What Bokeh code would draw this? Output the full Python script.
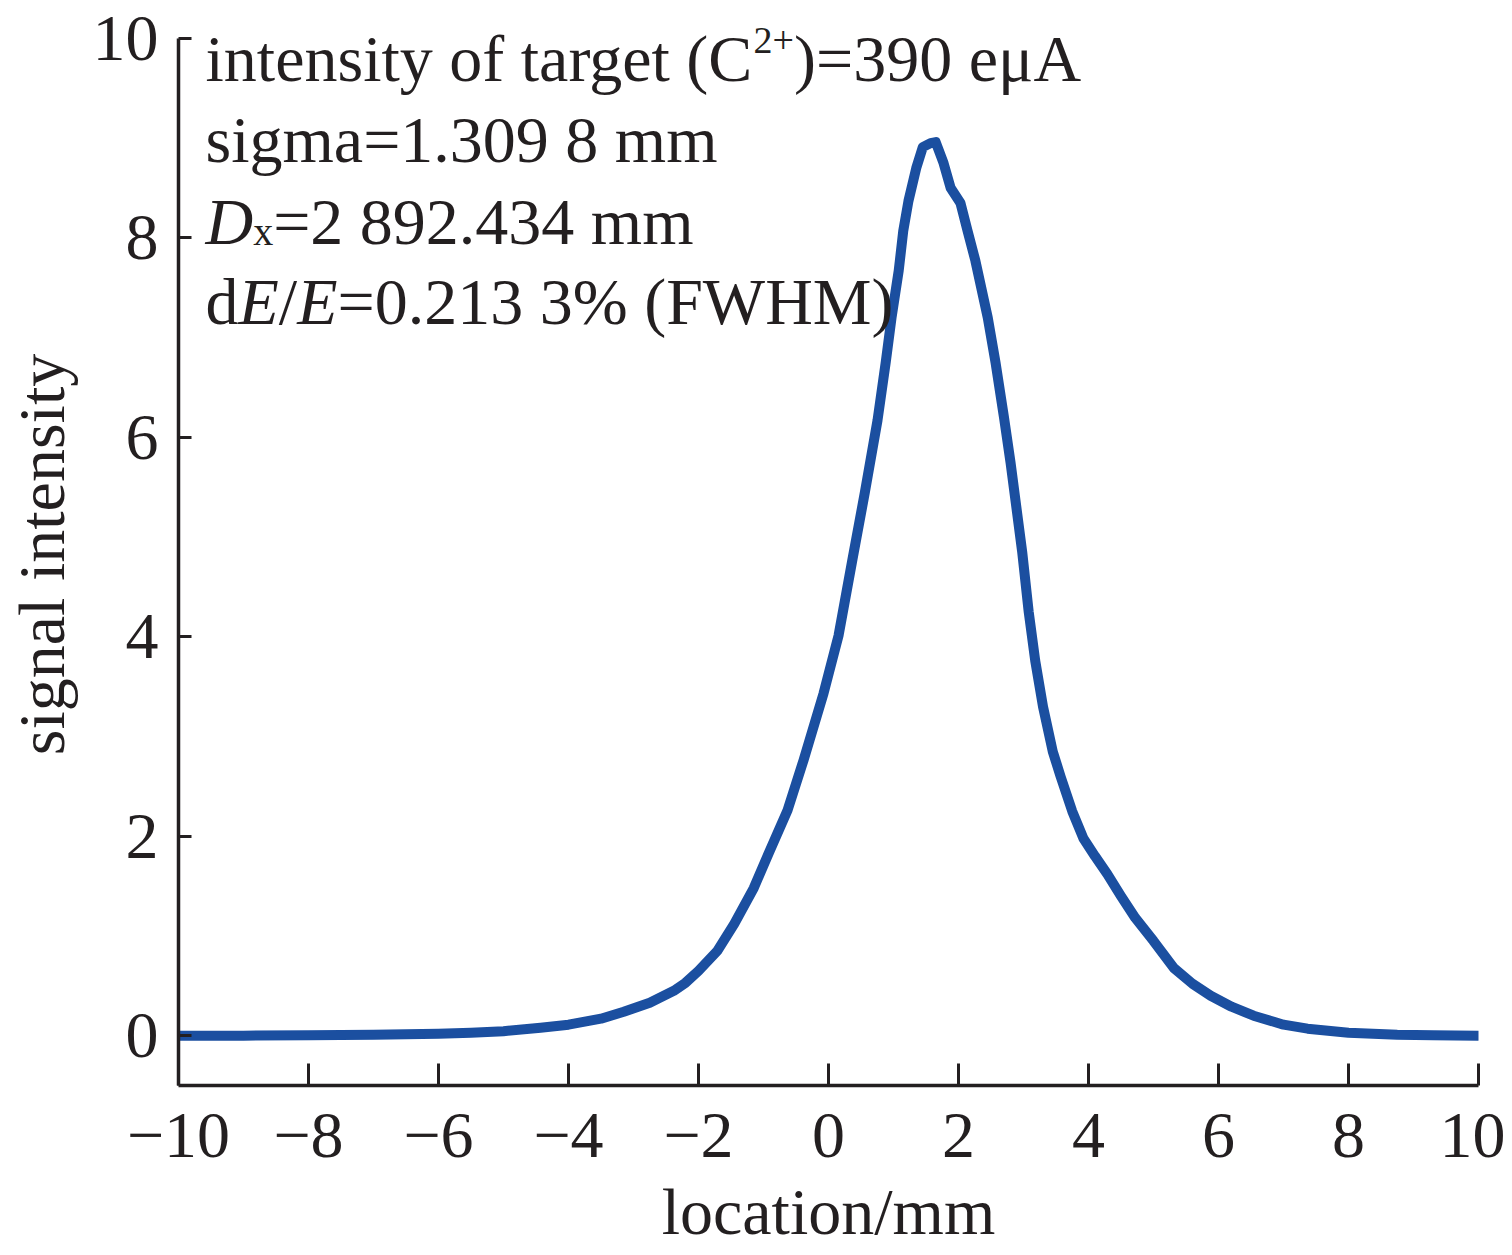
from bokeh.plotting import figure
from bokeh.models import Range1d, FixedTicker, Label
from bokeh.embed import file_html
from bokeh.resources import INLINE

# ---- data ----
location = [-10, -9, -8, -7, -6, -5.5, -5, -4.43, -4, -3.5, -3.15, -2.75, -2.38, -2.2, -2.0,
            -1.71, -1.45, -1.15, -0.92, -0.63, -0.385, -0.077, 0.154, 0.364, 0.56, 0.754, 0.88,
            0.97, 1.08, 1.15, 1.23, 1.35, 1.45, 1.57, 1.65, 1.77, 1.88, 2.03, 2.14, 2.26, 2.45,
            2.57, 2.7, 2.8, 2.9, 2.98, 3.08, 3.18, 3.3, 3.45, 3.57, 3.75, 3.92, 4.1, 4.29, 4.5,
            4.72, 5.0, 5.31, 5.6, 5.88, 6.2, 6.54, 7.0, 7.37, 8.0, 8.75, 9.3, 10]
signal = [0, 0, 0.003, 0.008, 0.02, 0.03, 0.045, 0.08, 0.11, 0.17, 0.24, 0.33, 0.45, 0.53, 0.65,
          0.85, 1.12, 1.48, 1.83, 2.26, 2.76, 3.43, 4.01, 4.76, 5.45, 6.17, 6.75,
          7.2, 7.67, 8.07, 8.37, 8.7, 8.91, 8.95, 8.96, 8.75, 8.5, 8.35, 8.07, 7.77, 7.2,
          6.75, 6.2, 5.75, 5.25, 4.85, 4.25, 3.76, 3.3, 2.85, 2.6, 2.25, 1.98, 1.8, 1.62, 1.4,
          1.18, 0.95, 0.68, 0.52, 0.40, 0.29, 0.20, 0.11, 0.07, 0.03, 0.01, 0.005, 0]
x_ticks = [-10, -8, -6, -4, -2, 0, 2, 4, 6, 8, 10]
y_ticks = [0, 2, 4, 6, 8, 10]

FONT = "Liberation Serif"
INK = "#231f20"
BLUE = "#1b4fa0"
FS = 66

p = figure(width=1505, height=1250, output_backend="svg", toolbar_location=None,
           x_range=Range1d(-10, 10), y_range=Range1d(-0.5, 10.15),
           min_border_left=178, min_border_right=27, min_border_top=23, min_border_bottom=165)
p.outline_line_color = None
p.grid.visible = False
p.background_fill_color = "white"
p.border_fill_color = "white"

p.line(location, signal, line_color=BLUE, line_width=10, line_cap="round", line_join="round")

for ax in (p.xaxis[0], p.yaxis[0]):
    ax.axis_line_color = INK
    ax.axis_line_width = 3.5
    ax.major_tick_line_color = INK
    ax.major_tick_line_width = 3
    ax.minor_tick_line_color = None
    ax.major_tick_out = 0
    ax.major_label_text_font = FONT
    ax.major_label_text_font_size = f"{FS}px"
    ax.major_label_text_color = INK
    ax.axis_label_text_font = FONT
    ax.axis_label_text_font_size = f"{FS}px"
    ax.axis_label_text_font_style = "normal"
    ax.axis_label_text_color = INK

def minus(v):
    return f"\u2212{abs(v)}" if v < 0 else f"{v}"

p.xaxis.ticker = FixedTicker(ticks=x_ticks)
p.xaxis.major_label_overrides = {t: minus(t) for t in x_ticks}
p.xaxis.major_tick_in = 22
p.xaxis.major_label_standoff = 28
p.xaxis.axis_label = "location/mm"
p.xaxis.axis_label_standoff = 15

p.yaxis.ticker = FixedTicker(ticks=y_ticks)
p.yaxis.bounds = (-0.5, 10)
p.yaxis.major_label_overrides = {t: str(t) for t in y_ticks}
p.yaxis.major_tick_in = 13
p.yaxis.major_label_standoff = 20
p.yaxis.axis_label = "signal intensity"
p.yaxis.axis_label_standoff = 12

# ---- annotation text, built from runs with Times metrics ----
W = {' ': 250, '(': 333, ')': 333, '=': 564, '+': 564, '.': 250, '%': 833, '/': 278,
     'a': 444, 'c': 444, 'd': 500, 'e': 444, 'f': 333, 'g': 500, 'i': 278, 'm': 778,
     'n': 500, 'o': 500, 'r': 333, 's': 389, 't': 278, 'x': 500, 'y': 500, 'μ': 576,
     'A': 722, 'C': 667, 'D': 722, 'E': 611, 'F': 556, 'H': 722, 'M': 889, 'W': 944}
for d in "0123456789":
    W[d] = 500

def width(s, size):
    return sum(W.get(ch, 500) for ch in s) * size / 1000.0

x0 = -9.585
lines = [
    (9.80, [("intensity of target (C", FS, "normal", 0), ("2+", 38, "normal", 18),
            (")=390 eμA", FS, "normal", 0)]),
    (8.99, [("sigma=1.309 8 mm", FS, "normal", 0)]),
    (8.16, [("D", FS, "italic", 0), ("x", 40, "normal", -10), ("=2 892.434 mm", FS, "normal", 0)]),
    (7.36, [("d", FS, "normal", 0), ("E", FS, "italic", 0), ("/", FS, "normal", 0),
            ("E", FS, "italic", 0), ("=0.213 3% (FWHM)", FS, "normal", 0)]),
]
for yb, runs in lines:
    off = 0.0
    for txt, size, style, dy in runs:
        p.add_layout(Label(x=x0, y=yb, x_offset=off, y_offset=dy, text=txt,
                           text_font=FONT, text_font_size=f"{size}px", text_font_style=style,
                           text_color=INK, text_baseline="alphabetic", text_align="left"))
        off += width(txt, size)

open("out.html", "w").write(file_html(p, INLINE))
